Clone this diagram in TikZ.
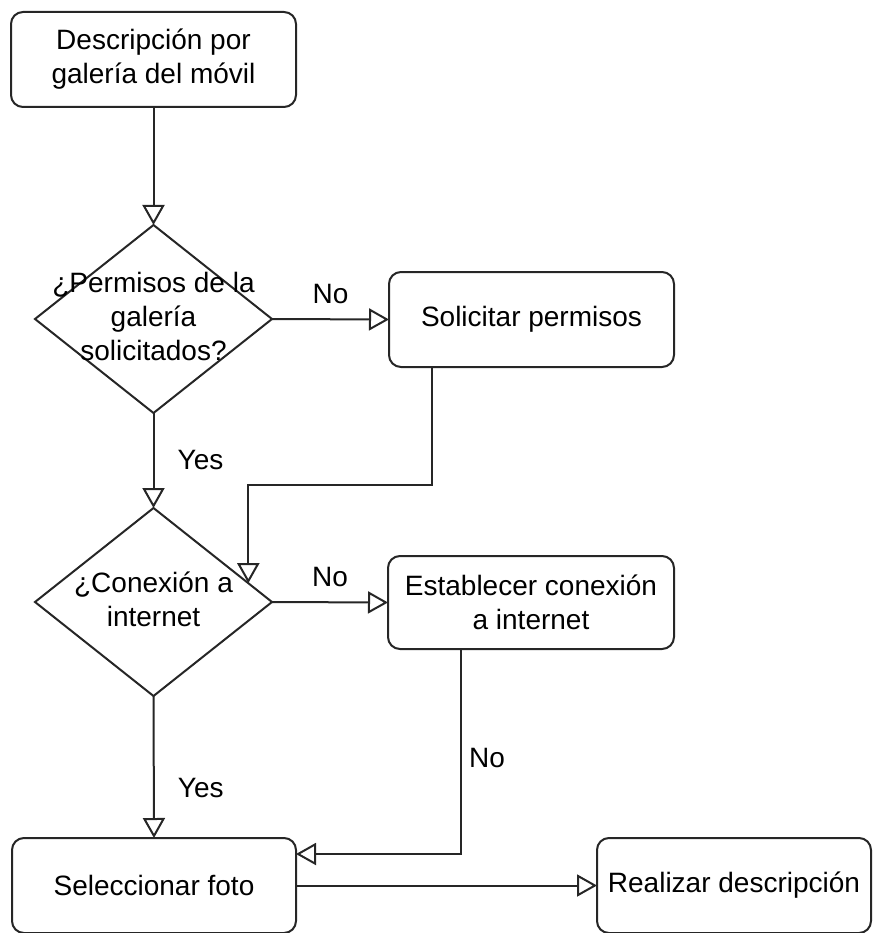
\documentclass[tikz,border=0pt]{standalone}
\usepackage{fontspec}
\setmainfont{Liberation Sans}
\usetikzlibrary{shapes.geometric, arrows.meta, calc}
\begin{document}
\begin{tikzpicture}[x=1pt, y=-1pt,
  every node/.style={font=\fontsize{28}{34}\selectfont},
  stepbox/.style={draw=black!85, line width=2pt, rounded corners=12pt,
    align=center, inner sep=0pt, outer sep=0pt},
  decision/.style={draw=black!85, diamond, line width=2pt,
    inner sep=0pt, outer sep=0pt, minimum width=237pt, minimum height=188pt},
  dtext/.style={align=center, inner sep=0pt},
  lbl/.style={inner sep=0pt},
  flow/.style={draw=black!85, line width=2pt,
    -{Triangle[open, length=20pt, width=22pt]}}
]
\useasboundingbox (0,0) rectangle (873,933);

% process boxes
\node[stepbox, minimum width=285pt, minimum height=95pt] (start) at (153.5,59.5)
  {Descripción por\\galería del móvil};
\node[stepbox, minimum width=285pt, minimum height=95pt] (sol) at (531.5,319.5)
  {Solicitar permisos};
\node[stepbox, minimum width=286pt, minimum height=93pt] (est) at (531,602.5)
  {Establecer conexión\\a internet};
\node[stepbox, minimum width=284pt, minimum height=95pt] (sel) at (154,885.5)
  {Seleccionar foto};
\node[stepbox, minimum width=274pt, minimum height=95pt] (real) at (734,885.5)
  {Realizar descripción};

% decisions (text set on top, free to run over the outline)
\node[decision] (d1) at (153.5,319) {};
\node[dtext] (d1t) at (153.5,316) {¿Permisos de la\\galería\\solicitados?};
\node[decision] (d2) at (153.5,602) {};
\node[dtext] (d2t) at (153.5,599) {¿Conexión a\\internet};

% connectors
\draw[flow] (start.south) -- (d1.north);
\draw[flow] (d1.east) -- node[lbl, midway, yshift=25pt] {No} (sol.west);
\draw[flow] (d1.south) -- node[lbl, midway, xshift=47pt] {Yes} (d2.north);

\coordinate (s1) at ($(sol.south west)+(43,0)$);
\coordinate (e4) at ($(d2.north)!0.8!(d2.east)$);
\draw[flow] (s1) -- ++(0,118) -| (e4);

\draw[flow] (d2.east) -- node[lbl, midway, yshift=25pt] {No} (est.west);
\draw[flow] (d2.south) -- node[lbl, pos=0.65, xshift=47pt] {Yes} (sel.north);

\coordinate (s2) at ($(est.south west)+(73,0)$);
\coordinate (e6) at ($(sel.east)+(0,-31.5)$);
\draw[flow] (s2) -- node[lbl, pos=0.53, xshift=26pt] {No} (s2 |- e6) -- (e6);

\draw[flow] (sel.east) -- (real.west);
\end{tikzpicture}
\end{document}
